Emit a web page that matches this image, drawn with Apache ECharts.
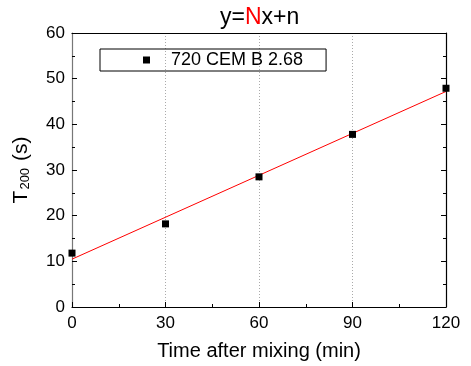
<!DOCTYPE html>
<html>
<head>
<meta charset="utf-8">
<script src="https://cdn.jsdelivr.net/npm/echarts@6/dist/echarts.min.js"></script>
<style>html,body{margin:0;padding:0;background:#fff}#c{width:471px;height:366px}</style>
</head>
<body>
<div id="c"></div>
<script>
var timeMin = [0, 30, 60, 90, 120];
var t200 = [11.8, 18.2, 28.5, 37.8, 47.9];
var seriesName = '720 CEM B 2.68';
var xTicks = [0, 30, 60, 90, 120];
var yTicks = [0, 10, 20, 30, 40, 50, 60];

// least-squares fit line y = N x + n
var n = timeMin.length, sx = 0, sy = 0, sxx = 0, sxy = 0;
for (var i = 0; i < n; i++) { sx += timeMin[i]; sy += t200[i]; sxx += timeMin[i]*timeMin[i]; sxy += timeMin[i]*t200[i]; }
var slope = (n*sxy - sx*sy) / (n*sxx - sx*sx);
var icpt = (sy - slope*sx) / n;
var fitX = [xTicks[0], xTicks[xTicks.length-1]];
var fitData = fitX.map(function (x) { return [x, slope*x + icpt]; });

var font = 'Liberation Sans, Arial, sans-serif';
var chart = echarts.init(document.getElementById('c'), null, {renderer: 'canvas'});
chart.setOption({
  animation: false,
  backgroundColor: '#fff',
  title: {
    text: '{a|y=}{b|N}{a|x+n}',
    left: 215, top: 1,
    textStyle: {
      fontWeight: 'normal',
      rich: {
        a: {fontSize: 23, color: '#000', fontFamily: font, fontWeight: 'normal'},
        b: {fontSize: 23, color: '#ff0000', fontFamily: font, fontWeight: 'normal'}
      }
    }
  },
  legend: {
    left: 100, top: 49,
    padding: [2, 23, 2, 43],
    borderColor: '#000', borderWidth: 1,
    itemWidth: 7, itemHeight: 7,
    data: [{name: seriesName, icon: 'rect', itemStyle: {color: '#000', opacity: 1}}],
    textStyle: {fontSize: 18, color: '#000', fontFamily: font, padding: [0, 0, 0, 16]}
  },
  grid: {left: 72, right: 25, top: 33, bottom: 59, outerBoundsMode: 'none', containLabel: false},
  xAxis: [{
    type: 'value', min: 0, max: 120, interval: 30,
    name: 'Time after mixing (min)', nameLocation: 'middle', nameGap: 34,
    nameTextStyle: {fontSize: 20, color: '#000', fontFamily: font},
    axisLine: {lineStyle: {color: '#000', width: 1.2}},
    axisTick: {inside: true, length: 5, lineStyle: {color: '#000'}},
    minorTick: {show: true, splitNumber: 2, length: 3, lineStyle: {color: '#000'}},
    axisLabel: {fontSize: 17, color: '#000', fontFamily: font, margin: 8},
    splitLine: {show: true, lineStyle: {color: '#aaa', type: [1, 2], width: 1}}
  }, {
    type: 'value', min: 0, max: 120, interval: 30, position: 'top',
    axisLine: {show: true, onZero: false, lineStyle: {color: '#000', width: 1.2}},
    axisTick: {show: false}, axisLabel: {show: false}, splitLine: {show: false}
  }],
  yAxis: [{
    type: 'value', min: 0, max: 60, interval: 10,
    name: '{t|T}{s|200}{t| (s)}', nameLocation: 'middle', nameGap: 40, nameRotate: 90,
    nameTextStyle: {
      color: '#000', fontFamily: font,
      rich: {
        t: {fontSize: 21, color: '#000', fontFamily: font, lineHeight: 26, verticalAlign: 'bottom'},
        s: {fontSize: 13, color: '#000', fontFamily: font, lineHeight: 26, verticalAlign: 'bottom', padding: [8, 1, 0, 1]}
      }
    },
    axisLine: {show: true, lineStyle: {color: '#777', width: 1.2}},
    axisTick: {inside: true, length: 5, lineStyle: {color: '#000'}},
    minorTick: {show: true, splitNumber: 2, length: 3, lineStyle: {color: '#000'}},
    axisLabel: {fontSize: 17, color: '#000', fontFamily: font, margin: 7},
    splitLine: {show: false}
  }, {
    type: 'value', min: 0, max: 60, interval: 10, position: 'right',
    axisLine: {show: true, onZero: false, lineStyle: {color: '#000', width: 1.2}},
    axisTick: {show: true, inside: true, length: 5, lineStyle: {color: '#000'}},
    minorTick: {show: true, splitNumber: 2, length: 3, lineStyle: {color: '#000'}},
    axisLabel: {show: false}, splitLine: {show: false}
  }],
  series: [{
    name: 'fit', type: 'line', data: fitData, showSymbol: false, symbol: 'none',
    lineStyle: {color: '#ff0000', width: 1}, silent: true, z: 2
  }, {
    name: seriesName, type: 'scatter',
    data: timeMin.map(function (x, i) { return [x, t200[i]]; }),
    symbol: 'rect', symbolSize: 7, itemStyle: {color: '#000', opacity: 1}, z: 3
  }]
});
</script>
</body>
</html>
